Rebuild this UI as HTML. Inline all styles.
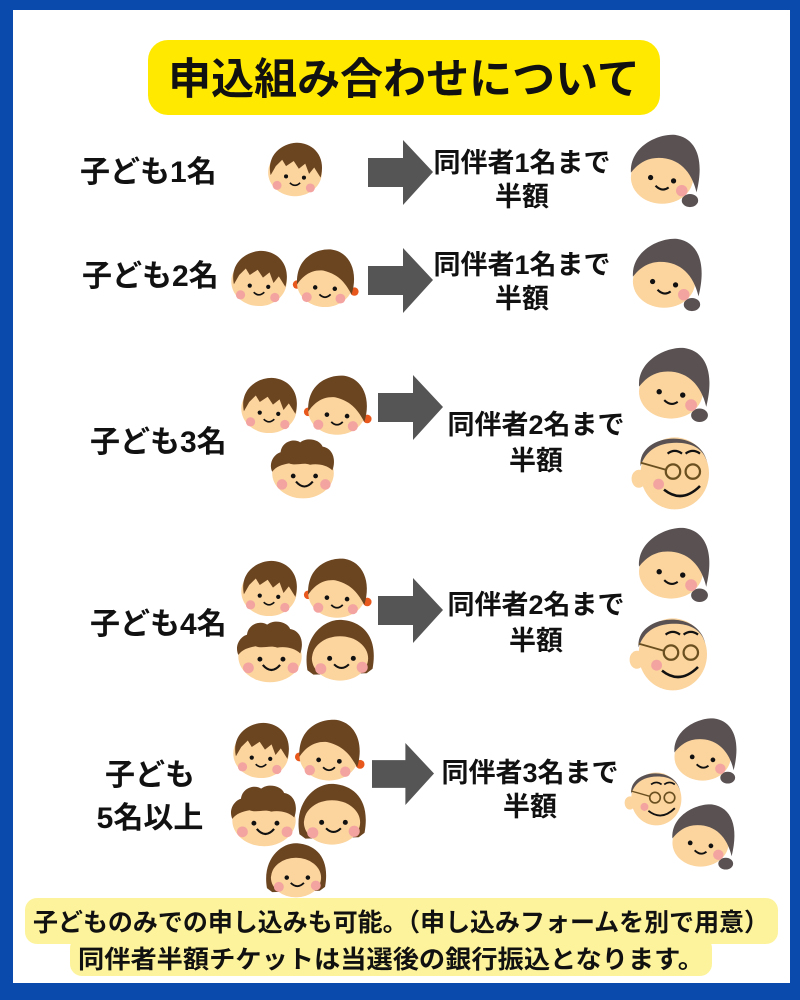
<!DOCTYPE html>
<html><head><meta charset="utf-8"><style>
html,body{margin:0;padding:0;background:#0a4aad;}
svg{display:block}
text{font-family:"Liberation Sans","Noto Sans CJK JP",sans-serif;font-weight:bold;fill:#111}
</style></head><body>
<svg width="800" height="1000" viewBox="0 0 800 1000" xmlns="http://www.w3.org/2000/svg">
<defs>
<symbol id="boy" viewBox="-50 -50 100 100">
<ellipse cx="0" cy="4" rx="42" ry="37" fill="#fbd49e"/>
<path d="M-38 8 C-46 -30 -10 -46 10 -42 C34 -38 48 -16 40 12 L30 -4 L22 6 L16 -10 L6 -2 L-2 -14 L-14 -6 L-20 -16 L-30 -6 Z" fill="#6b4420"/>
<circle cx="-14" cy="10" r="3.2" fill="#111"/><circle cx="14" cy="12" r="3.2" fill="#111"/>
<path d="M-8 20 Q0 28 8 20" stroke="#111" stroke-width="2.5" fill="none"/>
<circle cx="-28" cy="24" r="7" fill="#f3a3a0"/><circle cx="24" cy="28" r="7" fill="#f3a3a0"/>
</symbol>
<symbol id="girl" viewBox="-50 -50 100 100">
<circle cx="-40" cy="8" r="6" fill="#e8581c"/><circle cx="42" cy="18" r="6" fill="#e8581c"/>
<ellipse cx="0" cy="6" rx="40" ry="34" fill="#fbd49e"/>
<path d="M-40 8 C-42 -34 -8 -44 10 -42 C36 -38 48 -10 38 22 C30 8 22 -6 -2 -12 C-20 -14 -32 -4 -40 8 Z" fill="#6b4420"/>
<circle cx="-14" cy="12" r="3.2" fill="#111"/><circle cx="14" cy="14" r="3.2" fill="#111"/>
<path d="M-8 22 Q0 30 8 22" stroke="#111" stroke-width="2.5" fill="none"/>
<circle cx="-26" cy="26" r="7" fill="#f3a3a0"/><circle cx="22" cy="28" r="7" fill="#f3a3a0"/>
</symbol>
<symbol id="curly" viewBox="-50 -50 100 100">
<ellipse cx="0" cy="6" rx="44" ry="36" fill="#fbd49e"/>
<path d="M-44 4 C-50 -10 -40 -22 -32 -24 C-30 -40 -12 -44 -4 -38 C6 -46 24 -42 28 -32 C42 -30 48 -14 42 2 C34 -6 20 -8 10 -6 C0 -10 -10 -4 -20 -8 C-30 -6 -38 -4 -44 4 Z" fill="#6b4420"/>
<circle cx="-14" cy="10" r="3.4" fill="#111"/><circle cx="18" cy="10" r="3.4" fill="#111"/>
<path d="M-10 18 Q2 32 14 18" stroke="#111" stroke-width="3" fill="none"/>
<circle cx="-30" cy="22" r="7.5" fill="#f3a3a0"/><circle cx="32" cy="22" r="7.5" fill="#f3a3a0"/>
</symbol>
<symbol id="bob" viewBox="-50 -50 100 100">
<path d="M-44 26 C-52 -20 -20 -44 2 -42 C30 -40 52 -20 44 24 L36 30 L-36 32 Z" fill="#6b4420"/>
<ellipse cx="0" cy="10" rx="38" ry="30" fill="#fbd49e"/>
<path d="M-38 10 C-36 -14 -14 -22 2 -22 C20 -22 38 -12 40 6 C42 -30 20 -40 2 -40 C-22 -40 -42 -24 -38 10Z" fill="#6b4420"/>
<circle cx="-14" cy="10" r="3.4" fill="#111"/><circle cx="18" cy="10" r="3.4" fill="#111"/>
<path d="M-8 18 Q2 28 12 18" stroke="#111" stroke-width="2.8" fill="none"/>
<circle cx="-26" cy="24" r="7.5" fill="#f3a3a0"/><circle cx="30" cy="22" r="7.5" fill="#f3a3a0"/>
</symbol>
<symbol id="woman" viewBox="-50 -50 100 100">
<ellipse cx="28" cy="36" rx="10" ry="8" fill="#5a5252"/>
<ellipse cx="-6" cy="8" rx="38" ry="32" fill="#fbd49e"/>
<path d="M-44 2 C-46 -30 -10 -46 10 -44 C36 -40 46 -14 36 26 C30 0 14 -16 -10 -16 C-26 -16 -36 -8 -44 2Z" fill="#5a5252"/>
<circle cx="-20" cy="8" r="3.2" fill="#111"/><circle cx="8" cy="12" r="3.2" fill="#111"/>
<path d="M-14 18 Q-6 26 2 20" stroke="#111" stroke-width="2.5" fill="none"/>
<circle cx="18" cy="24" r="7" fill="#f3a3a0"/>
</symbol>
<symbol id="gpa" viewBox="-50 -50 100 100">
<ellipse cx="-38" cy="12" rx="8" ry="10" fill="#fbd49e"/>
<ellipse cx="2" cy="6" rx="38" ry="40" fill="#fbd49e"/>
<path d="M-36 -2 C-40 -38 30 -46 38 -6 C34 -22 20 -28 4 -28 C-16 -28 -30 -20 -36 -2Z" fill="#5a5252"/>
<path d="M-6 -16 q8 -6 16 0 M14 -16 q8 -6 16 0" stroke="#111" stroke-width="2.5" fill="none"/>
<circle cx="0" cy="4" r="8" stroke="#6a5020" stroke-width="2.5" fill="none"/>
<circle cx="22" cy="4" r="8" stroke="#6a5020" stroke-width="2.5" fill="none"/>
<path d="M-8 2 L-36 -6" stroke="#6a5020" stroke-width="2"/>
<path d="M-10 24 Q10 40 30 20" stroke="#111" stroke-width="2.8" fill="none"/>
<circle cx="-16" cy="18" r="6" fill="#f3a3a0"/>
</symbol>
<symbol id="arrow" viewBox="0 0 65 65">
<path d="M0 18 H35 V0 L65 32 L35 65 V47 H0 Z" fill="#555"/>
</symbol>
</defs>
<rect x="13" y="10" width="777" height="973" fill="#fff"/>
<rect x="148" y="40" width="512" height="75" rx="20" fill="#ffe900"/>
<text x="404" y="94" font-size="43" text-anchor="middle">申込組み合わせについて</text>

<!-- row1 -->
<text x="80" y="182" font-size="30">子ども1名</text>
<use href="#boy" x="263" y="138" width="64" height="64"/>
<use href="#arrow" x="368" y="140" width="65" height="65"/>
<text x="522" y="172" font-size="27" text-anchor="middle">同伴者1名まで</text>
<text x="522" y="206" font-size="27" text-anchor="middle">半額</text>
<use href="#woman" x="626" y="130" width="82" height="82"/>

<!-- row2 -->
<text x="82" y="286" font-size="30">子ども2名</text>
<use href="#boy" x="226" y="246" width="66" height="66"/>
<use href="#girl" x="290" y="244" width="70" height="70"/>
<use href="#arrow" x="368" y="248" width="65" height="65"/>
<text x="522" y="274" font-size="27" text-anchor="middle">同伴者1名まで</text>
<text x="522" y="308" font-size="27" text-anchor="middle">半額</text>
<use href="#woman" x="628" y="234" width="82" height="82"/>

<!-- row3 -->
<text x="90" y="452" font-size="30">子ども3名</text>
<use href="#boy" x="236" y="373" width="66" height="66"/>
<use href="#girl" x="301" y="370" width="72" height="72"/>
<use href="#curly" x="268" y="434" width="70" height="70"/>
<use href="#arrow" x="378" y="375" width="65" height="65"/>
<text x="536" y="434" font-size="27" text-anchor="middle">同伴者2名まで</text>
<text x="536" y="470" font-size="27" text-anchor="middle">半額</text>
<use href="#woman" x="634" y="343" width="84" height="84"/>
<use href="#gpa" x="628" y="423" width="90" height="90"/>

<!-- row4 -->
<text x="90" y="634" font-size="30">子ども4名</text>
<use href="#boy" x="236" y="556" width="66" height="66"/>
<use href="#girl" x="301" y="553" width="72" height="72"/>
<use href="#curly" x="234" y="616" width="72" height="72"/>
<use href="#bob" x="303" y="614" width="74" height="74"/>
<use href="#arrow" x="378" y="578" width="65" height="65"/>
<text x="536" y="614" font-size="27" text-anchor="middle">同伴者2名まで</text>
<text x="536" y="650" font-size="27" text-anchor="middle">半額</text>
<use href="#woman" x="634" y="523" width="84" height="84"/>
<use href="#gpa" x="626" y="604" width="90" height="90"/>

<!-- row5 -->
<text x="150" y="785" font-size="30" text-anchor="middle">子ども</text>
<text x="150" y="828" font-size="30" text-anchor="middle">5名以上</text>
<use href="#boy" x="228" y="718" width="66" height="66"/>
<use href="#girl" x="292" y="714" width="74" height="74"/>
<use href="#curly" x="228" y="780" width="72" height="72"/>
<use href="#bob" x="295" y="778" width="74" height="74"/>
<use href="#bob" x="263" y="838" width="66" height="66"/>
<use href="#arrow" x="372" y="743" width="62" height="62"/>
<text x="530" y="782" font-size="27" text-anchor="middle">同伴者3名まで</text>
<text x="530" y="816" font-size="27" text-anchor="middle">半額</text>
<use href="#woman" x="670" y="714" width="74" height="74"/>
<use href="#gpa" x="622" y="762" width="66" height="66"/>
<use href="#woman" x="668" y="800" width="74" height="74"/>

<!-- notes -->
<rect x="25" y="898" width="753" height="46" rx="12" fill="#fdf39c"/>
<rect x="70" y="936" width="642" height="40" rx="12" fill="#fdf39c"/>
<text x="401" y="931" font-size="25" text-anchor="middle" textLength="736" lengthAdjust="spacingAndGlyphs">子どものみでの申し込みも可能。（申し込みフォームを別で用意）</text>
<text x="391" y="968" font-size="25" text-anchor="middle" textLength="626" lengthAdjust="spacingAndGlyphs">同伴者半額チケットは当選後の銀行振込となります。</text>
</svg>
</body></html>
